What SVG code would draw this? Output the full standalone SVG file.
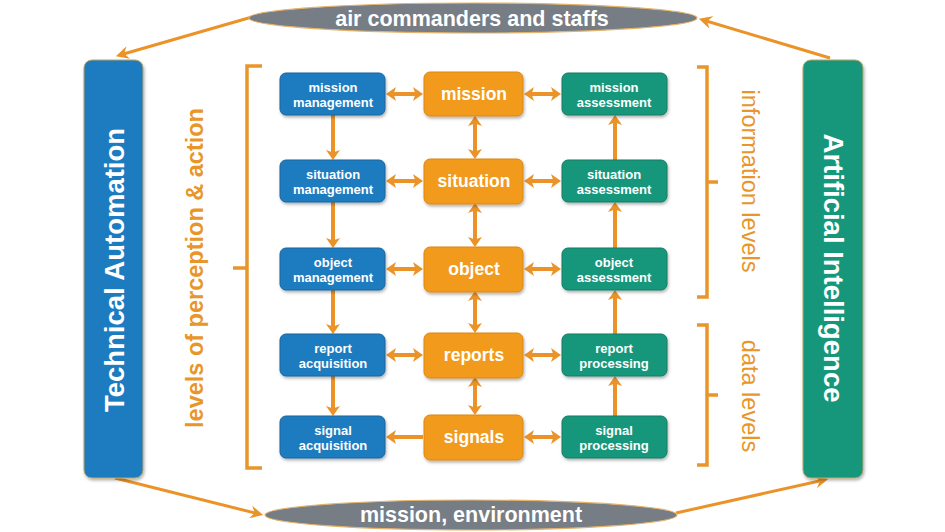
<svg xmlns="http://www.w3.org/2000/svg" width="945" height="532" viewBox="0 0 945 532">
<defs>
<filter id="sh" x="-10%" y="-10%" width="130%" height="140%"><feDropShadow dx="1" dy="2" stdDeviation="1.5" flood-color="#000" flood-opacity="0.3"/></filter>
<marker id="ah" viewBox="0 0 10 14" refX="6" refY="7" markerWidth="10" markerHeight="14" orient="auto-start-reverse" markerUnits="userSpaceOnUse"><path d="M0,0 L10,7 L0,14 L2.5,7 z" fill="#EB9328"/></marker>
<marker id="ahb" viewBox="0 0 12 12" refX="8" refY="6" markerWidth="13" markerHeight="13" orient="auto-start-reverse" markerUnits="userSpaceOnUse"><path d="M0,0 L12,6 L0,12 L4,6 z" fill="#EB9328"/></marker>
<style>
.b{fill:#1F7BBF;stroke:#17649C;stroke-width:1}
.o{fill:#F29A1D;stroke:#DC8615;stroke-width:1}
.g{fill:#16977B;stroke:#117A63;stroke-width:1}
.st{font-family:"Liberation Sans",Arial,sans-serif;font-weight:bold;font-size:13px;fill:#fff;text-anchor:middle}
.bt{font-family:"Liberation Sans",Arial,sans-serif;font-weight:bold;font-size:17.5px;fill:#fff;text-anchor:middle}
.ar{stroke:#EB9328;stroke-width:4;fill:none}
.oa{stroke:#EB9328;stroke-width:3;fill:none}
.br{stroke:#E8962A;stroke-width:3.5;fill:none}
.lab{font-family:"Liberation Sans",Arial,sans-serif;fill:#E8962A;text-anchor:middle}
.big{font-family:"Liberation Sans",Arial,sans-serif;font-weight:bold;font-size:27.5px;fill:#fff;text-anchor:middle}
.ell{fill:#767D85;stroke:#E3B36A;stroke-width:1.2}
.et{font-family:"Liberation Sans",Arial,sans-serif;font-weight:bold;font-size:21.5px;fill:#fff;text-anchor:middle}
</style>
</defs>
<rect width="945" height="532" fill="#fff"/>

<g id="connectors">
<!-- outer cycle -->
<line class="oa" x1="252" y1="17" x2="120" y2="55" marker-end="url(#ahb)"/>
<line class="oa" x1="830" y1="58" x2="703" y2="20" marker-end="url(#ahb)"/>
<line class="oa" x1="115" y1="478" x2="259" y2="514" marker-end="url(#ahb)"/>
<line class="oa" x1="676" y1="513" x2="824" y2="480" marker-end="url(#ahb)"/>
<!-- horizontal -->
<line class="ar" x1="390" y1="94" x2="419" y2="94" marker-start="url(#ah)" marker-end="url(#ah)"/>
<line class="ar" x1="528" y1="94" x2="557" y2="94" marker-start="url(#ah)" marker-end="url(#ah)"/>
<line class="ar" x1="390" y1="181" x2="419" y2="181" marker-start="url(#ah)" marker-end="url(#ah)"/>
<line class="ar" x1="528" y1="181" x2="557" y2="181" marker-start="url(#ah)" marker-end="url(#ah)"/>
<line class="ar" x1="390" y1="269" x2="419" y2="269" marker-start="url(#ah)" marker-end="url(#ah)"/>
<line class="ar" x1="528" y1="269" x2="557" y2="269" marker-start="url(#ah)" marker-end="url(#ah)"/>
<line class="ar" x1="390" y1="355" x2="419" y2="355" marker-start="url(#ah)" marker-end="url(#ah)"/>
<line class="ar" x1="528" y1="355" x2="557" y2="355" marker-start="url(#ah)" marker-end="url(#ah)"/>
<line class="ar" x1="423" y1="437" x2="390" y2="437" marker-end="url(#ah)"/>
<line class="ar" x1="528" y1="437" x2="557" y2="437" marker-start="url(#ah)" marker-end="url(#ah)"/>
<!-- blue down -->
<line class="ar" x1="333" y1="115" x2="333" y2="156" marker-end="url(#ah)"/>
<line class="ar" x1="333" y1="202" x2="333" y2="244" marker-end="url(#ah)"/>
<line class="ar" x1="333" y1="290" x2="333" y2="330" marker-end="url(#ah)"/>
<line class="ar" x1="333" y1="376" x2="333" y2="412" marker-end="url(#ah)"/>
<!-- orange double -->
<line class="ar" x1="475" y1="120" x2="475" y2="155" marker-start="url(#ah)" marker-end="url(#ah)"/>
<line class="ar" x1="475" y1="207" x2="475" y2="243" marker-start="url(#ah)" marker-end="url(#ah)"/>
<line class="ar" x1="475" y1="295" x2="475" y2="329" marker-start="url(#ah)" marker-end="url(#ah)"/>
<line class="ar" x1="475" y1="381" x2="475" y2="411" marker-start="url(#ah)" marker-end="url(#ah)"/>
<!-- green up -->
<line class="ar" x1="615" y1="160" x2="615" y2="119" marker-end="url(#ah)"/>
<line class="ar" x1="615" y1="248" x2="615" y2="206" marker-end="url(#ah)"/>
<line class="ar" x1="615" y1="334" x2="615" y2="294" marker-end="url(#ah)"/>
<line class="ar" x1="615" y1="416" x2="615" y2="380" marker-end="url(#ah)"/>
</g>

<g id="brackets">
<path class="br" d="M262,66 H247 V468 H262 M247,268 H233"/>
<path class="br" d="M697,67 H707 V297 H697 M707,182 H718"/>
<path class="br" d="M697,325 H707 V465 H697 M707,395 H718"/>
</g>

<g id="air-commanders">
<ellipse class="ell" cx="473" cy="18" rx="224" ry="15"/>
<text class="et" x="472" y="26">air commanders and staffs</text>
</g>
<g id="mission-environment">
<ellipse class="ell" cx="471" cy="515" rx="206" ry="15"/>
<text class="et" x="471" y="522">mission, environment</text>
</g>

<g id="technical-automation">
<rect x="84" y="60" width="59" height="418" rx="8" fill="#1F7BBF" stroke="#B9A46A" stroke-width="1" filter="url(#sh)"/>
<text class="big" transform="translate(124,270) rotate(-90)">Technical Automation</text>
</g>
<g id="artificial-intelligence">
<rect x="803" y="60" width="60" height="418" rx="8" fill="#16977B" stroke="#B9A46A" stroke-width="1" filter="url(#sh)"/>
<text class="big" transform="translate(824,268) rotate(90)">Artificial Intelligence</text>
</g>

<g id="label-perception">
<text class="lab" font-weight="bold" font-size="23.5" transform="translate(203,268) rotate(-90)">levels of perception &amp; action</text>
</g>
<g id="label-information">
<text class="lab" font-size="23.5" transform="translate(742,181) rotate(90)">information levels</text>
</g>
<g id="label-data">
<text class="lab" font-size="23.5" transform="translate(742,396) rotate(90)">data levels</text>
</g>

<!-- blue column -->
<g id="mission-management"><rect class="b" x="280" y="73" width="105" height="42" rx="6" filter="url(#sh)"/><text class="st" x="333" y="92">mission</text><text class="st" x="333" y="107">management</text></g>
<g id="situation-management"><rect class="b" x="280" y="160" width="105" height="42" rx="6" filter="url(#sh)"/><text class="st" x="333" y="179">situation</text><text class="st" x="333" y="194">management</text></g>
<g id="object-management"><rect class="b" x="280" y="248" width="105" height="42" rx="6" filter="url(#sh)"/><text class="st" x="333" y="267">object</text><text class="st" x="333" y="282">management</text></g>
<g id="report-acquisition"><rect class="b" x="280" y="334" width="105" height="42" rx="6" filter="url(#sh)"/><text class="st" x="333" y="353">report</text><text class="st" x="333" y="368">acquisition</text></g>
<g id="signal-acquisition"><rect class="b" x="280" y="416" width="105" height="42" rx="6" filter="url(#sh)"/><text class="st" x="333" y="435">signal</text><text class="st" x="333" y="450">acquisition</text></g>

<!-- orange column -->
<g id="mission"><rect class="o" x="424" y="72" width="99" height="44" rx="6" filter="url(#sh)"/><text class="bt" x="474" y="100">mission</text></g>
<g id="situation"><rect class="o" x="424" y="159" width="99" height="45" rx="6" filter="url(#sh)"/><text class="bt" x="474" y="187">situation</text></g>
<g id="object"><rect class="o" x="424" y="247" width="99" height="45" rx="6" filter="url(#sh)"/><text class="bt" x="474" y="275">object</text></g>
<g id="reports"><rect class="o" x="424" y="333" width="99" height="45" rx="6" filter="url(#sh)"/><text class="bt" x="474" y="361">reports</text></g>
<g id="signals"><rect class="o" x="424" y="415" width="99" height="45" rx="6" filter="url(#sh)"/><text class="bt" x="474" y="443">signals</text></g>

<!-- green column -->
<g id="mission-assessment"><rect class="g" x="562" y="73" width="105" height="42" rx="6" filter="url(#sh)"/><text class="st" x="614" y="92">mission</text><text class="st" x="614" y="107">assessment</text></g>
<g id="situation-assessment"><rect class="g" x="562" y="160" width="105" height="42" rx="6" filter="url(#sh)"/><text class="st" x="614" y="179">situation</text><text class="st" x="614" y="194">assessment</text></g>
<g id="object-assessment"><rect class="g" x="562" y="248" width="105" height="42" rx="6" filter="url(#sh)"/><text class="st" x="614" y="267">object</text><text class="st" x="614" y="282">assessment</text></g>
<g id="report-processing"><rect class="g" x="562" y="334" width="105" height="42" rx="6" filter="url(#sh)"/><text class="st" x="614" y="353">report</text><text class="st" x="614" y="368">processing</text></g>
<g id="signal-processing"><rect class="g" x="562" y="416" width="105" height="42" rx="6" filter="url(#sh)"/><text class="st" x="614" y="435">signal</text><text class="st" x="614" y="450">processing</text></g>
</svg>
